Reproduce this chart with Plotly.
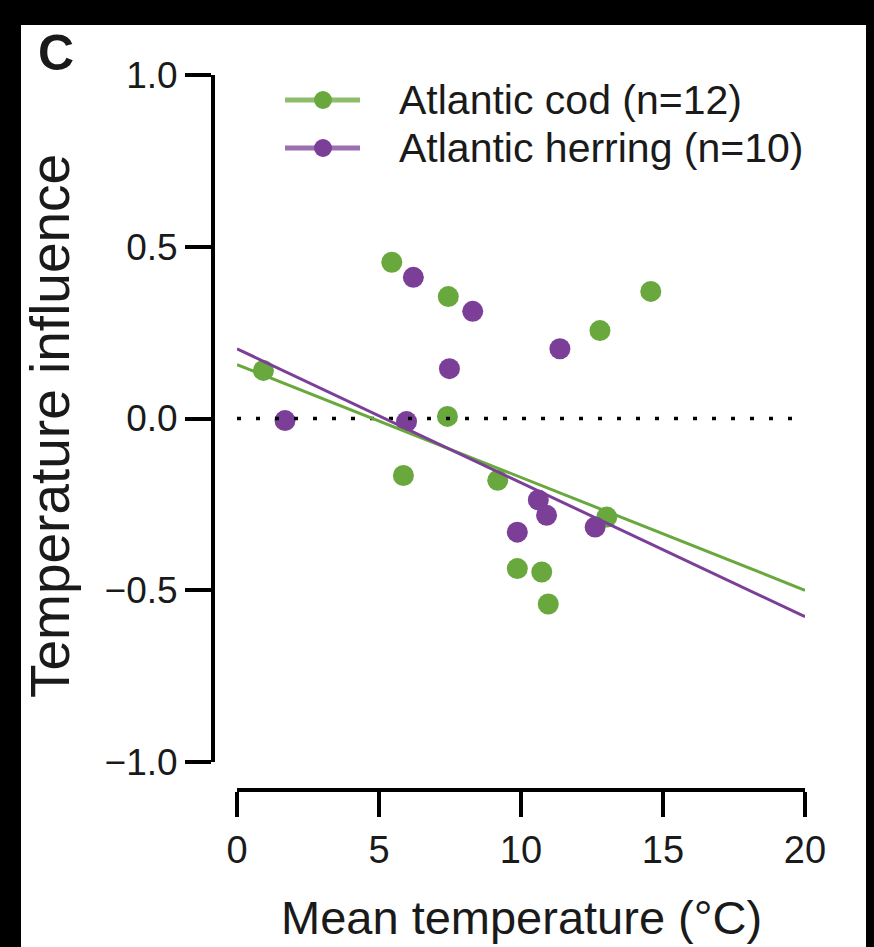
import plotly.graph_objects as go

# ---------------- data ----------------
cod_temp = [0.93, 5.45, 5.86, 7.41, 7.44, 9.18, 9.87, 10.73, 10.96, 12.78, 13.02, 14.57]
cod_influence = [0.14, 0.455, -0.166, 0.006, 0.355, -0.18, -0.437, -0.447, -0.54, 0.256, -0.287, 0.37]

herring_temp = [1.69, 5.97, 6.21, 7.48, 8.30, 9.87, 10.61, 10.90, 11.37, 12.61]
herring_influence = [-0.006, -0.009, 0.411, 0.145, 0.312, -0.331, -0.237, -0.282, 0.203, -0.316]

fit_temp = [0, 20]
cod_fit = [0.157, -0.50]
herring_fit = [0.203, -0.577]

zero_ref_x = [0, 20]
zero_ref_y = [0, 0]

x_ticks = [0, 5, 10, 15, 20]
y_ticks = [-1.0, -0.5, 0.0, 0.5, 1.0]
y_tick_text = ["\u22121.0", "\u22120.5", "0.0", "0.5", "1.0"]

cod_label = "Atlantic cod (n=12)"
herring_label = "Atlantic herring (n=10)"

# ---------------- style ----------------
GREEN = "#69a83d"
PURPLE = "#7c3f98"
FONT = "Liberation Sans, Arial, Helvetica, sans-serif"

W, H = 874, 947
ML, MR, MT, MB = 213, 69, 75, 157
PW, PH = W - ML - MR, H - MT - MB


def px(x):
    return (x - ML) / PW


def py(y):
    return (H - MB - y) / PH


fig = go.Figure()

fig.add_trace(go.Scatter(x=cod_temp, y=cod_influence, mode="markers",
                         marker=dict(size=21, color=GREEN, line=dict(width=0)),
                         name=cod_label, showlegend=False))
fig.add_trace(go.Scatter(x=herring_temp, y=herring_influence, mode="markers",
                         marker=dict(size=21, color=PURPLE, line=dict(width=0)),
                         name=herring_label, showlegend=False))
fig.add_trace(go.Scatter(x=zero_ref_x, y=zero_ref_y, mode="lines",
                         line=dict(color="black", width=3.5, dash="4px,15px"),
                         showlegend=False, hoverinfo="skip"))
fig.add_trace(go.Scatter(x=fit_temp, y=cod_fit, mode="lines",
                         line=dict(color=GREEN, width=3), showlegend=False))
fig.add_trace(go.Scatter(x=fit_temp, y=herring_fit, mode="lines",
                         line=dict(color=PURPLE, width=3), showlegend=False))

shapes = []
# custom legend keys
for yc, col in [(100, GREEN), (148, PURPLE)]:
    shapes.append(dict(type="line", xref="paper", yref="paper",
                       x0=px(285), x1=px(360), y0=py(yc), y1=py(yc),
                       line=dict(color=col, width=5), opacity=0.75))
    shapes.append(dict(type="circle", xref="paper", yref="paper",
                       x0=px(314), x1=px(332), y0=py(yc + 9), y1=py(yc - 9),
                       fillcolor=col, line=dict(width=0)))
# black frame strips
shapes.append(dict(type="rect", xref="paper", yref="paper", layer="above",
                   x0=px(-5), x1=px(W + 5), y0=py(25), y1=py(-5),
                   fillcolor="black", line=dict(width=0)))
shapes.append(dict(type="rect", xref="paper", yref="paper", layer="above",
                   x0=px(-5), x1=px(21), y0=py(H + 5), y1=py(-5),
                   fillcolor="black", line=dict(width=0)))
shapes.append(dict(type="rect", xref="paper", yref="paper", layer="above",
                   x0=px(866), x1=px(W + 5), y0=py(H + 5), y1=py(-5),
                   fillcolor="black", line=dict(width=0)))

annotations = [
    dict(text=cod_label, xref="paper", yref="paper", x=px(397), y=py(100),
         xanchor="left", yanchor="middle", showarrow=False,
         font=dict(family=FONT, size=41, color="#1a1a1a")),
    dict(text=herring_label, xref="paper", yref="paper", x=px(397), y=py(148),
         xanchor="left", yanchor="middle", showarrow=False,
         font=dict(family=FONT, size=41, color="#1a1a1a")),
    dict(text="Mean temperature (\u00b0C)", xref="paper", yref="paper",
         x=px(521), y=py(918), xanchor="center", yanchor="middle", showarrow=False,
         font=dict(family=FONT, size=47, color="#1a1a1a")),
    dict(text="Temperature influence", xref="paper", yref="paper",
         x=px(50), y=py(426), xanchor="center", yanchor="middle", showarrow=False,
         textangle=-90, font=dict(family=FONT, size=55, color="#1a1a1a")),
    dict(text="<b>C</b>", xref="paper", yref="paper", x=px(56), y=py(53),
         xanchor="center", yanchor="middle", showarrow=False,
         font=dict(family=FONT, size=50, color="#1a1a1a")),
]

fig.update_layout(
    width=W, height=H,
    margin=dict(l=ML, r=MR, t=MT, b=MB, pad=0),
    paper_bgcolor="white", plot_bgcolor="white",
    showlegend=False,
    font=dict(family=FONT, color="#1a1a1a"),
    shapes=shapes, annotations=annotations,
    xaxis=dict(range=[0, 20], domain=[px(237), 1], anchor="free", position=0,
               showline=True, linecolor="black", linewidth=4,
               ticks="outside", ticklen=25, tickwidth=3.5, tickcolor="black",
               tickvals=x_ticks, tickfont=dict(size=38, family=FONT, color="#1a1a1a"),
               showgrid=False, zeroline=False),
    yaxis=dict(range=[-1, 1], domain=[py(762), 1], anchor="free", position=0,
               showline=True, linecolor="black", linewidth=4,
               ticks="outside", ticklen=26, tickwidth=3.5, tickcolor="black",
               tickvals=y_ticks, ticktext=y_tick_text,
               tickfont=dict(size=37, family=FONT, color="#1a1a1a"),
               showgrid=False, zeroline=False),
)

fig.write_html("out.html")
